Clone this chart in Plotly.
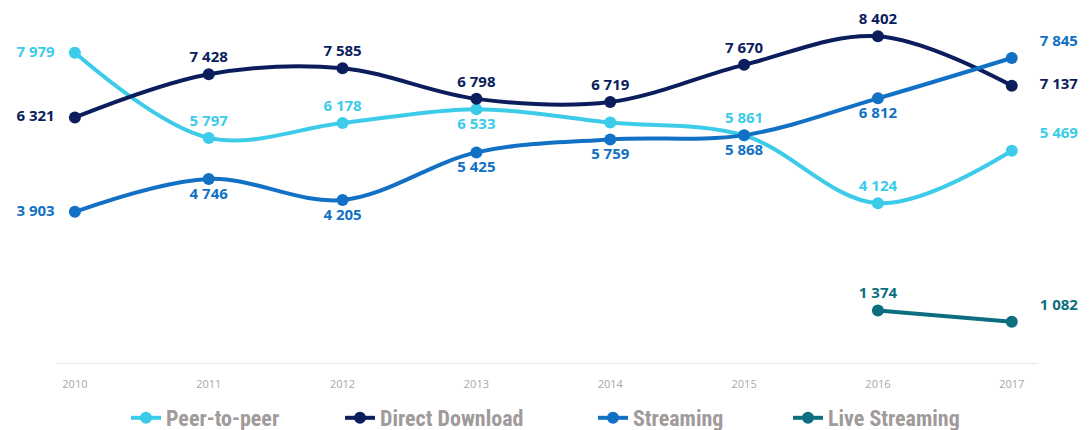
import plotly.graph_objects as go

years = [2010, 2011, 2012, 2013, 2014, 2015, 2016, 2017]
peer_to_peer = [7979, 5797, 6178, 6533, 6190, 5861, 4124, 5469]
direct_download = [6321, 7428, 7585, 6798, 6719, 7670, 8402, 7137]
streaming = [3903, 4746, 4205, 5425, 5759, 5868, 6812, 7845]
live_years = [2016, 2017]
live_streaming = [1374, 1082]

# which labels are shown and where they sit
p2p_pos = ["middle left", "top center", "top center", "bottom center", "top center",
           "top center", "top center", "top right"]
p2p_show = [True, True, True, True, False, True, True, True]
dd_pos = ["middle left"] + ["top center"] * 6 + ["middle right"]
st_pos = ["middle left"] + ["bottom center"] * 6 + ["top right"]
live_pos = ["top center", "top right"]

# page has an 8px body margin, so the figure is drawn 8px smaller
W, H = 1084, 422
LEGEND_FONT = dict(family="Liberation Sans Narrow, Roboto Condensed, Arial Narrow, sans-serif",
                   size=22, color="#a09a9a", weight="bold")


def fmt(v, pos):
    s = f"{v:,}".replace(",", " ")
    if pos.endswith("left"):
        return s + "\u00a0" * 3
    if pos.endswith("right"):
        return "\u00a0" * 5 + s
    return s


def series(x, y, name, color, pos, legend, show=None):
    show = show or [True] * len(y)
    return go.Scatter(
        x=x,
        y=y,
        name=name,
        legend=legend,
        mode="lines+markers+text",
        line=dict(color=color, width=4, shape="spline", smoothing=1.0),
        marker=dict(color=color, size=12),
        text=[fmt(v, p) if s else "" for v, p, s in zip(y, pos, show)],
        textposition=pos,
        textfont=dict(color=color, size=15, family="Open Sans", weight="bold"),
        cliponaxis=False,
    )


fig = go.Figure()
fig.add_trace(series(years, peer_to_peer, "Peer-to-peer", "#3ccbe8", p2p_pos, "legend", p2p_show))
fig.add_trace(series(years, direct_download, "Direct Download", "#0b1d5c", dd_pos, "legend2"))
fig.add_trace(series(years, streaming, "Streaming", "#1271c4", st_pos, "legend3"))
fig.add_trace(series(live_years, live_streaming, "Live Streaming", "#0d6e80", live_pos, "legend4"))

fig.add_shape(type="line", xref="x", yref="y", x0=2009.86, x1=2017.2, y0=0, y1=0,
              line=dict(color="#e8e8e8", width=2), layer="below")


def legend_at(px):
    return dict(
        orientation="h", xref="container", x=px / W, xanchor="left",
        yref="paper", y=-0.157, yanchor="middle",
        font=LEGEND_FONT, itemwidth=30, bgcolor="rgba(0,0,0,0)",
    )


fig.update_layout(
    width=W,
    height=H,
    paper_bgcolor="white",
    plot_bgcolor="white",
    margin=dict(l=12, r=20, t=12, b=66, autoexpand=False),
    showlegend=True,
    legend=legend_at(118),
    legend2=legend_at(332),
    legend3=legend_at(585),
    legend4=legend_at(780),
)
fig.update_xaxes(
    range=[2009.59, 2017.45], tickvals=years, ticktext=[str(y) for y in years],
    showgrid=False, zeroline=False, showline=False, ticklabelstandoff=12,
    tickfont=dict(family="Open Sans, sans-serif", size=11, color="#a8a8a8"),
)
fig.update_yaxes(range=[0, 8820], showgrid=False, zeroline=False, showticklabels=False)

fig.write_html("out.html")
